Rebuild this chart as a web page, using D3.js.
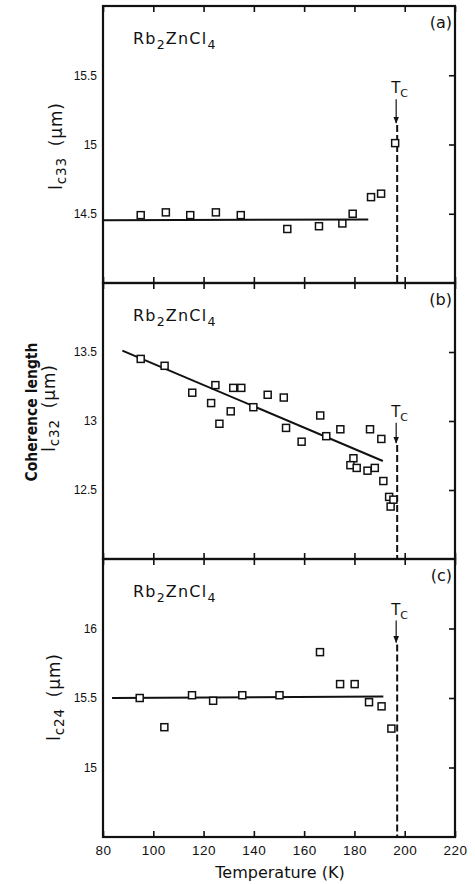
<!DOCTYPE html>
<html>
<head>
<meta charset="utf-8">
<script src="https://d3js.org/d3.v7.min.js"></script>
<style>
  body { margin: 0; background: #fff; }
  svg { font-family: "DejaVu Sans", sans-serif; }
  .frame { fill: none; stroke: #111; stroke-width: 2.2; }
  .axis path { display: none; }
  .axis line { stroke: #111; stroke-width: 1.6; }
  .axis text { font-size: 12px; fill: #111; }
  .pt { fill: #fff; stroke: #111; stroke-width: 1.5; }
  .fit { fill: none; stroke: #111; stroke-width: 2; }
  .tc { stroke: #111; stroke-width: 2; stroke-dasharray: 7,3; }
  .lbl { fill: #111; }
</style>
</head>
<body>
<div id="chart"></div>
<script>
// temperature axis
const tempTicks = [80, 100, 120, 140, 160, 180, 200, 220];
const Tc = 197;

// (a) l_c33
const tempA = [95, 105, 114.7, 124.9, 134.8, 153.3, 165.9, 175.2, 179.3, 186.6, 190.6, 196.2];
const lenA  = [14.49, 14.51, 14.49, 14.51, 14.49, 14.39, 14.41, 14.43, 14.50, 14.62, 14.645, 15.01];
const fitTempA = [80, 185.5];
const fitLenA  = [14.453, 14.458];
const ticksA = [14.5, 15, 15.5];

// (b) l_c32
const tempB = [95, 104.5, 115.5, 123, 124.7, 126.3, 130.8, 131.8, 135, 139.8, 145.5, 151.9, 152.8, 159,
               166.4, 168.8, 174.4, 179.6, 178.4, 180.9, 185.2, 188.1, 186.2, 190.7, 191.5, 193.8, 194.4, 195.5];
const lenB  = [13.45, 13.40, 13.205, 13.13, 13.26, 12.98, 13.07, 13.24, 13.24, 13.10, 13.19, 13.17, 12.95, 12.85,
               13.04, 12.89, 12.94, 12.73, 12.68, 12.66, 12.64, 12.66, 12.94, 12.87, 12.565, 12.45, 12.38, 12.43];
const fitTempB = [87.7, 191.3];
const fitLenB  = [13.51, 12.71];
const ticksB = [12.5, 13, 13.5];

// (c) l_c24
const tempC = [94.6, 104.4, 115.4, 123.8, 135.4, 150.2, 166.3, 174.3, 180.1, 185.8, 190.8, 194.7];
const lenC  = [15.50, 15.29, 15.52, 15.48, 15.52, 15.52, 15.83, 15.60, 15.60, 15.47, 15.44, 15.28];
const fitTempC = [83.6, 191.5];
const fitLenC  = [15.50, 15.51];
const ticksC = [15, 15.5, 16];

const W = 475, H = 884;
const svg = d3.select("#chart").append("svg").attr("width", W).attr("height", H);

const x = d3.scaleLinear().domain([80, 220]).range([103, 455]);

// labBase = x of y-label baseline, labMid = vertical centre of y-label
const panels = [
  { tag: "(a)", sub: "c33", top: 6,   bot: 283, dom: [14, 16],     temps: tempA, lens: lenA, ft: fitTempA, fl: fitLenA, ticks: ticksA, tcLbl: 15.37, tcHead: 15.155, labBase: 62, labMid: 146, coh: false },
  { tag: "(b)", sub: "c32", top: 283, bot: 559, dom: [12, 14],     temps: tempB, lens: lenB, ft: fitTempB, fl: fitLenB, ticks: ticksB, tcLbl: 13.03, tcHead: 12.84, labBase: 55, labMid: 408, coh: true },
  { tag: "(c)", sub: "c24", top: 559, bot: 837, dom: [14.5, 16.5], temps: tempC, lens: lenC, ft: fitTempC, fl: fitLenC, ticks: ticksC, tcLbl: 16.1, tcHead: 15.9, labBase: 60, labMid: 697, coh: false }
];

const fmt = d => d3.format("~g")(d);

svg.append("defs").append("marker")
  .attr("id", "arr").attr("viewBox", "0 0 10 10").attr("refX", 9).attr("refY", 5)
  .attr("markerWidth", 6).attr("markerHeight", 8).attr("orient", "auto")
  .append("path").attr("d", "M0,1 L10,5 L0,9 Z").attr("fill", "#111");

panels.forEach((p, i) => {
  const y = d3.scaleLinear().domain(p.dom).range([p.bot, p.top]);
  const g = svg.append("g");

  // inward ticks top / bottom
  g.append("g").attr("class", "axis").attr("transform", `translate(0,${p.top})`)
    .call(d3.axisTop(x).tickValues(tempTicks).tickSize(-6).tickFormat(""));
  const bx = g.append("g").attr("class", "axis").attr("transform", `translate(0,${p.bot})`)
    .call(d3.axisBottom(x).tickValues(tempTicks).tickSize(-6).tickPadding(8)
      .tickFormat(i === 2 ? d3.format("d") : ""));
  bx.selectAll("text").style("font-size", "13.5px").attr("letter-spacing", "0.5");

  // right ticks inward, left labels
  g.append("g").attr("class", "axis").attr("transform", `translate(${x.range()[1]},0)`)
    .call(d3.axisRight(y).tickValues(p.ticks).tickSize(-6).tickFormat(""));
  g.append("g").attr("class", "axis").attr("transform", `translate(${x.range()[0]},0)`)
    .call(d3.axisLeft(y).tickValues(p.ticks).tickSize(0).tickPadding(6).tickFormat(fmt));

  // frame
  g.append("rect").attr("class", "frame")
    .attr("x", x(80)).attr("y", p.top).attr("width", x(220) - x(80)).attr("height", p.bot - p.top);

  // fit line
  const fitPts = p.ft.map((t, k) => [t, p.fl[k]]);
  g.append("path").attr("class", "fit")
    .attr("d", d3.line().x(d => x(d[0])).y(d => y(d[1]))(fitPts));

  // Tc dashed line + arrow
  g.append("line").attr("class", "tc")
    .attr("x1", x(Tc)).attr("x2", x(Tc)).attr("y1", y(p.tcHead) + 2).attr("y2", p.bot);
  g.append("line").attr("stroke", "#111").attr("stroke-width", 1.2)
    .attr("x1", x(Tc) - 1).attr("x2", x(Tc) - 1)
    .attr("y1", y(p.tcLbl) + 6).attr("y2", y(p.tcHead))
    .attr("marker-end", "url(#arr)");
  const tcT = g.append("text").attr("class", "lbl")
    .attr("x", x(Tc) - 6).attr("y", y(p.tcLbl)).style("font-size", "15px");
  tcT.append("tspan").text("T");
  tcT.append("tspan").attr("dy", 4).style("font-size", "11px").text("C");

  // data squares
  const pts = p.temps.map((t, k) => ({ t, v: p.lens[k] }));
  g.selectAll(".pt").data(pts).enter().append("rect").attr("class", "pt")
    .attr("x", d => x(d.t) - 3.5).attr("y", d => y(d.v) - 3.5)
    .attr("width", 7).attr("height", 7);

  // compound label
  const comp = g.append("text").attr("class", "lbl")
    .attr("x", 133).attr("y", p.top + 38).style("font-size", "16px").attr("letter-spacing", "1.2");
  comp.append("tspan").text("Rb");
  comp.append("tspan").attr("dy", 5).style("font-size", "12.5px").text("2");
  comp.append("tspan").attr("dy", -5).text("ZnCl");
  comp.append("tspan").attr("dy", 5).style("font-size", "12.5px").text("4");

  // panel tag
  g.append("text").attr("class", "lbl").attr("x", 452).attr("y", p.top + 22)
    .attr("text-anchor", "end").style("font-size", "16px").text(p.tag);

  // y label
  const yl = g.append("text").attr("class", "lbl")
    .attr("transform", `translate(${p.labBase},${p.labMid}) rotate(-90)`)
    .attr("text-anchor", "middle").style("font-size", "17px").attr("letter-spacing", "0.8");
  yl.append("tspan").text("l");
  yl.append("tspan").attr("dy", 4).style("font-size", "13.5px").text(p.sub);
  yl.append("tspan").attr("dy", -4).attr("dx", 11).text("(\u03bcm)");
  if (p.coh) {
    g.append("text").attr("class", "lbl")
      .attr("transform", `translate(37,${p.labMid + 4}) rotate(-90)`)
      .attr("text-anchor", "middle").style("font-size", "16.5px").style("font-weight", "bold")
      .attr("textLength", 139).attr("lengthAdjust", "spacingAndGlyphs")
      .text("Coherence length");
  }
});

svg.append("text").attr("class", "lbl").attr("x", 280).attr("y", 878)
  .attr("text-anchor", "middle").style("font-size", "16px").text("Temperature (K)");
</script>
</body>
</html>
